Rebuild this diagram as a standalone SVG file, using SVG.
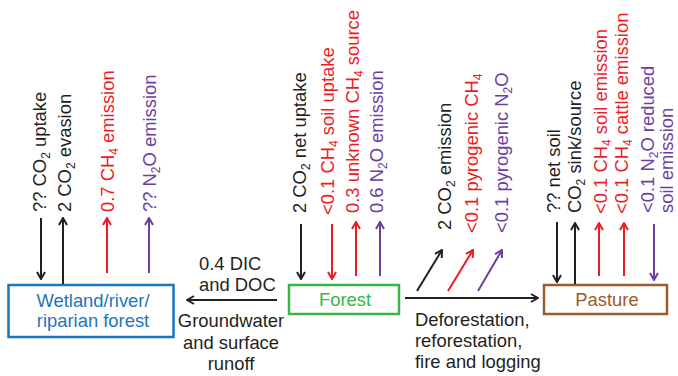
<svg xmlns="http://www.w3.org/2000/svg" width="678" height="376" viewBox="0 0 678 376">
<defs>
<style>
text{font-family:"Liberation Sans",Arial,sans-serif;font-size:18.4px}
.k{fill:#231f20}.r{fill:#ed1c24}.p{fill:#6b3fa0}
.lk{stroke:#231f20;stroke-width:2;fill:none}
.lr{stroke:#ed1c24;stroke-width:2;fill:none}
.lp{stroke:#6b3fa0;stroke-width:2;fill:none}
.box{fill:#fff;stroke-width:2.5}
.sub{font-size:12px}
</style>
<marker id="ak" markerUnits="userSpaceOnUse" viewBox="0 0 10 10" markerWidth="10" markerHeight="10" refX="9" refY="5" orient="auto"><path d="M2,1 L9,5 L2,9" fill="none" stroke="#231f20" stroke-width="2"/></marker>
<marker id="ar" markerUnits="userSpaceOnUse" viewBox="0 0 10 10" markerWidth="10" markerHeight="10" refX="9" refY="5" orient="auto"><path d="M2,1 L9,5 L2,9" fill="none" stroke="#ed1c24" stroke-width="2"/></marker>
<marker id="ap" markerUnits="userSpaceOnUse" viewBox="0 0 10 10" markerWidth="10" markerHeight="10" refX="9" refY="5" orient="auto"><path d="M2,1 L9,5 L2,9" fill="none" stroke="#6b3fa0" stroke-width="2"/></marker>
</defs>
<rect width="678" height="376" fill="#fff"/>

<g id="wetland">
<rect class="box" x="8.5" y="285" width="165" height="52" stroke="#1b75bc"/>
<text x="93" y="307" text-anchor="middle" fill="#1b75bc">Wetland/river/</text>
<text x="93" y="327" text-anchor="middle" fill="#1b75bc">riparian forest</text>
</g>
<g id="forest">
<rect class="box" x="289" y="285" width="110" height="29" stroke="#39b54a"/>
<text x="345" y="306" text-anchor="middle" fill="#39b54a">Forest</text>
</g>
<g id="pasture">
<rect class="box" x="544" y="285" width="123" height="29" stroke="#9e5a2b"/>
<text x="607" y="306" text-anchor="middle" fill="#9e5a2b">Pasture</text>
</g>

<g id="connectors">
<line class="lk" x1="41" y1="218" x2="41" y2="279" marker-end="url(#ak)"/>
<line class="lk" x1="63" y1="284" x2="63" y2="218" marker-end="url(#ak)"/>
<line class="lr" x1="107" y1="273" x2="107" y2="218" marker-end="url(#ar)"/>
<line class="lp" x1="149" y1="273" x2="149" y2="218" marker-end="url(#ap)"/>

<line class="lk" x1="301" y1="224" x2="301" y2="279" marker-end="url(#ak)"/>
<line class="lr" x1="332" y1="224" x2="332" y2="279" marker-end="url(#ar)"/>
<line class="lr" x1="356" y1="276" x2="356" y2="222" marker-end="url(#ar)"/>
<line class="lp" x1="380" y1="276" x2="380" y2="222" marker-end="url(#ap)"/>

<line class="lk" x1="557" y1="222" x2="557" y2="282" marker-end="url(#ak)"/>
<line class="lk" x1="575" y1="284" x2="575" y2="223" marker-end="url(#ak)"/>
<line class="lr" x1="599" y1="276" x2="599" y2="223" marker-end="url(#ar)"/>
<line class="lr" x1="624" y1="276" x2="624" y2="223" marker-end="url(#ar)"/>
<line class="lp" x1="654" y1="224" x2="654" y2="280" marker-end="url(#ap)"/>

<line class="lk" x1="417" y1="291" x2="442" y2="250" marker-end="url(#ak)"/>
<line class="lr" x1="448" y1="291" x2="473" y2="250" marker-end="url(#ar)"/>
<line class="lp" x1="478" y1="291" x2="502" y2="250" marker-end="url(#ap)"/>

<line class="lk" x1="277" y1="300" x2="187" y2="300" marker-end="url(#ak)"/>
<line class="lk" x1="405" y1="298" x2="538" y2="298" marker-end="url(#ak)"/>
</g>

<g id="labels">
<text class="k" transform="translate(46,212) rotate(-90)">?? CO<tspan class="sub" dy="4">2</tspan><tspan dy="-4"> uptake</tspan></text>
<text class="k" transform="translate(71,212) rotate(-90)">2 CO<tspan class="sub" dy="4">2</tspan><tspan dy="-4"> evasion</tspan></text>
<text class="r" transform="translate(114,212) rotate(-90)">0.7 CH<tspan class="sub" dy="4">4</tspan><tspan dy="-4"> emission</tspan></text>
<text class="p" transform="translate(156,212) rotate(-90)">?? N<tspan class="sub" dy="4">2</tspan><tspan dy="-4">O emission</tspan></text>

<text class="k" transform="translate(306,213) rotate(-90)">2 CO<tspan class="sub" dy="4">2</tspan><tspan dy="-4"> net uptake</tspan></text>
<text class="r" transform="translate(334,215) rotate(-90)">&lt;0.1 CH<tspan class="sub" dy="4">4</tspan><tspan dy="-4"> soil uptake</tspan></text>
<text class="r" transform="translate(359,213) rotate(-90)">0.3 unknown CH<tspan class="sub" dy="4">4</tspan><tspan dy="-4"> source</tspan></text>
<text class="p" transform="translate(383,213) rotate(-90)">0.6 N<tspan class="sub" dy="4">2</tspan><tspan dy="-4">O emission</tspan></text>

<text class="k" transform="translate(451,230) rotate(-90)">2 CO<tspan class="sub" dy="4">2</tspan><tspan dy="-4"> emission</tspan></text>
<text class="r" transform="translate(478,233) rotate(-90)">&lt;0.1 pyrogenic CH<tspan class="sub" dy="4">4</tspan></text>
<text class="p" transform="translate(508,233) rotate(-90)">&lt;0.1 pyrogenic N<tspan class="sub" dy="4">2</tspan><tspan dy="-4">O</tspan></text>

<text class="k" transform="translate(560,213) rotate(-90)">?? net soil</text>
<text class="k" transform="translate(581,213) rotate(-90)">CO<tspan class="sub" dy="4">2</tspan><tspan dy="-4"> sink/source</tspan></text>
<text class="r" transform="translate(607,214) rotate(-90)">&lt;0.1 CH<tspan class="sub" dy="4">4</tspan><tspan dy="-4"> soil emission</tspan></text>
<text class="r" transform="translate(628,214) rotate(-90)">&lt;0.1 CH<tspan class="sub" dy="4">4</tspan><tspan dy="-4"> cattle emission</tspan></text>
<text class="p" transform="translate(654,213) rotate(-90)">&lt;0.1 N<tspan class="sub" dy="4">2</tspan><tspan dy="-4">O reduced</tspan></text>
<text class="p" transform="translate(673,213) rotate(-90)">soil emission</text>

<text class="k" x="199" y="270">0.4 DIC</text>
<text class="k" x="199" y="291">and DOC</text>
<text class="k" x="231" y="327" text-anchor="middle">Groundwater</text>
<text class="k" x="231" y="349" text-anchor="middle">and surface</text>
<text class="k" x="231" y="370" text-anchor="middle">runoff</text>

<text class="k" x="415" y="326">Deforestation,</text>
<text class="k" x="415" y="347">reforestation,</text>
<text class="k" x="415" y="368">fire and logging</text>
</g>
</svg>
